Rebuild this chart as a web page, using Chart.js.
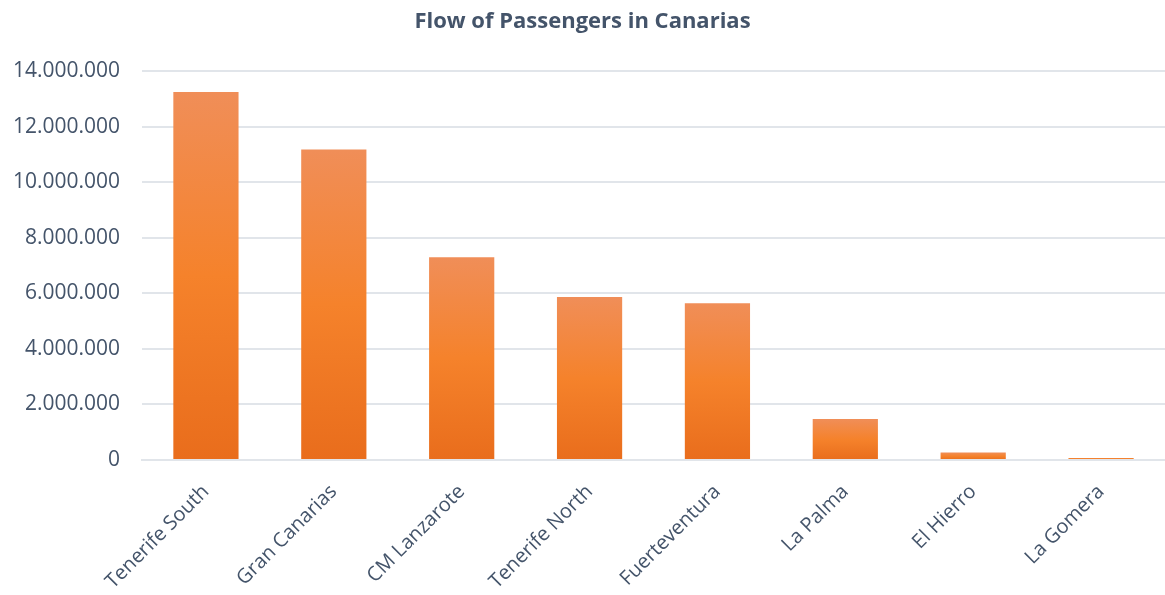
<!DOCTYPE html>
<html>
<head>
<meta charset="utf-8">
<script src="https://cdn.jsdelivr.net/npm/chart.js@4/dist/chart.umd.min.js"></script>
<style>
  html, body { margin: 0; padding: 0; background: #fff; }
  #wrap { width: 1165px; height: 595px; }
</style>
</head>
<body>
<div id="wrap"><canvas id="flujo"></canvas></div>
<script>
// aeropuertos y pasajeros
const airports = ["Tenerife South", "Gran Canarias", "CM Lanzarote", "Tenerife North", "Fuerteventura", "La Palma", "El Hierro", "La Gomera"];
const passengers = [13260000, 11190000, 7300000, 5870000, 5650000, 1480000, 270000, 75000];
const yTicks = [0, 2000000, 4000000, 6000000, 8000000, 10000000, 12000000, 14000000];

const textColor = "#44546A";
const gridColor = "#E1E5EA";

function formatDots(n) {
    return String(n).replace(/\B(?=(\d{3})+(?!\d))/g, ".");
}

// degradado vertical de cada barra: claro arriba, oscuro abajo
function barGradient(context) {
    const chart = context.chart;
    if (!chart.chartArea || context.type !== "data") return "#F4822F";
    const y = chart.scales.y;
    const top = y.getPixelForValue(passengers[context.dataIndex]);
    const bottom = y.getPixelForValue(0);
    if (bottom - top < 4) return "#F4822F";
    const g = chart.ctx.createLinearGradient(0, top, 0, bottom);
    g.addColorStop(0, "#F08E58");
    g.addColorStop(0.5, "#F5822B");
    g.addColorStop(1, "#E96D1C");
    return g;
}

new Chart(document.getElementById("flujo"), {
    type: "bar",
    data: {
        labels: airports,
        datasets: [{
            label: "Passengers",
            data: passengers,
            backgroundColor: barGradient,
            borderWidth: 0,
            barPercentage: 0.51,
            categoryPercentage: 1
        }]
    },
    options: {
        responsive: true,
        maintainAspectRatio: false,
        animation: false,
        layout: { padding: { left: 0, right: 0, top: 0, bottom: 0 } },
        plugins: {
            legend: { display: false },
            tooltip: { enabled: false },
            title: {
                display: true,
                text: "Flow of Passengers in Canarias",
                color: textColor,
                font: { family: "Open Sans", size: 22, weight: "bold" },
                padding: { top: 9, bottom: 36 }
            }
        },
        scales: {
            x: {
                grid: { display: false, drawTicks: false },
                border: { display: true, color: gridColor, width: 2 },
                ticks: {
                    color: textColor,
                    font: { family: "Open Sans", size: 20 },
                    minRotation: 45,
                    maxRotation: 45,
                    padding: 20
                },
                afterFit: (axis) => { axis.height = 135; }
            },
            y: {
                min: 0,
                max: 14000000,
                afterBuildTicks: (axis) => { axis.ticks = yTicks.map(v => ({ value: v })); },
                grid: { color: gridColor, lineWidth: 2, drawTicks: false },
                border: { display: false },
                ticks: {
                    color: textColor,
                    font: { family: "Open Sans", size: 21 },
                    padding: 22,
                    callback: (v) => formatDots(v)
                },
                afterFit: (axis) => { axis.width = 142; }
            }
        }
    }
});
</script>
</body>
</html>
